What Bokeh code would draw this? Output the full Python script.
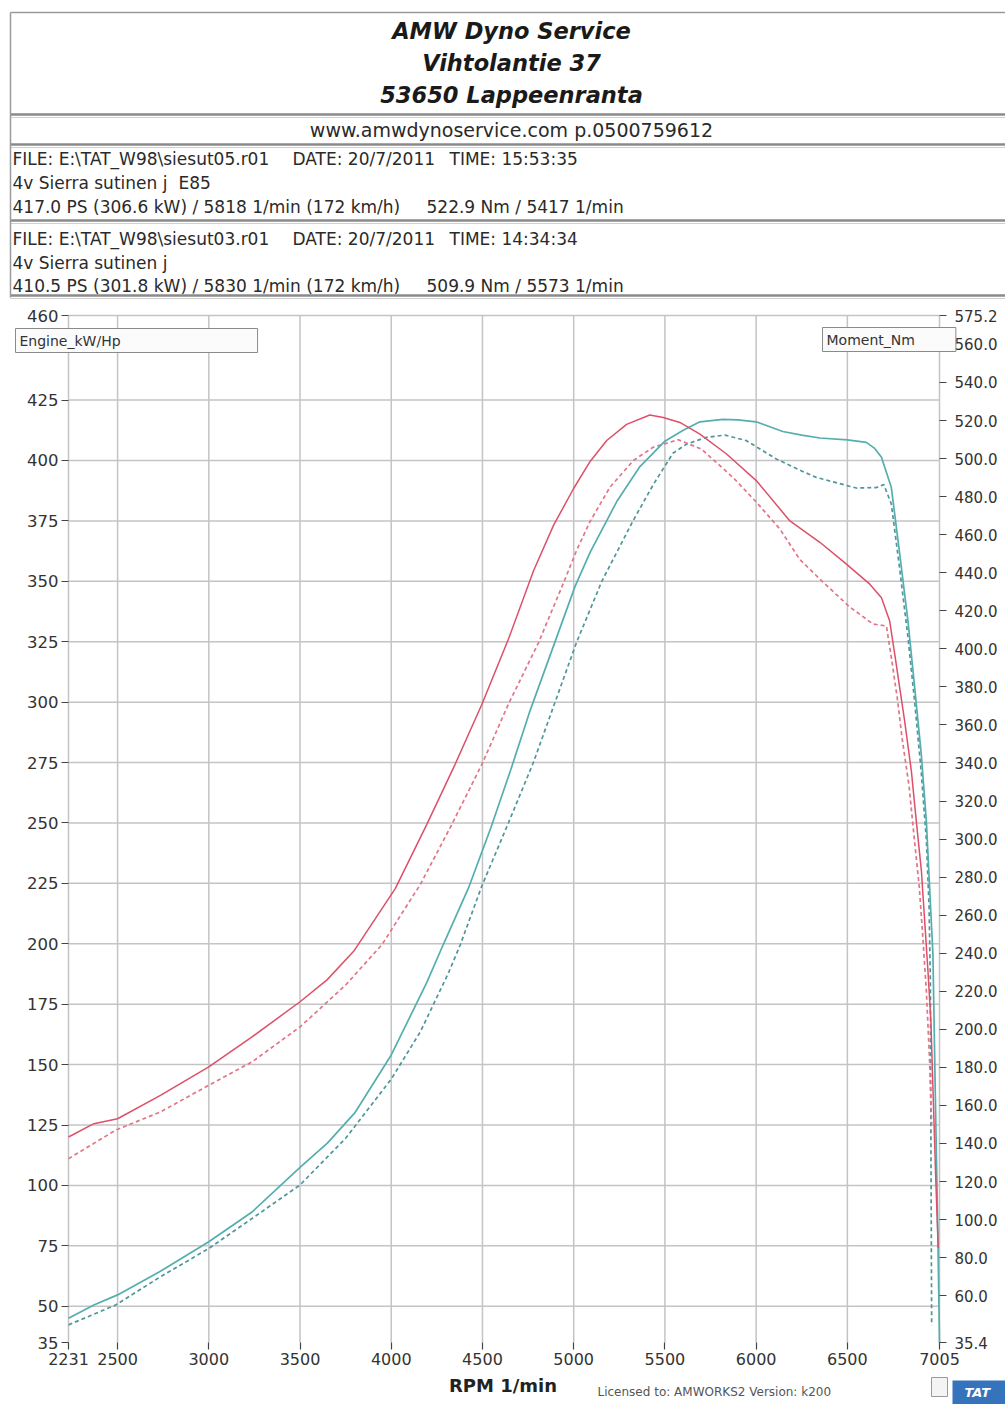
from bokeh.plotting import figure
from bokeh.models import Range1d, LinearAxis, FixedTicker, NumeralTickFormatter, Label
from bokeh.embed import file_html
from bokeh.resources import INLINE
from bokeh.core.properties import value

# ---------------- data ----------------
# Engine power (PS), run siesut05 (E85) - solid teal
rpm_ps_e85 = [2231, 2370, 2500, 2735, 3000, 3237, 3500, 3650, 3800, 4000, 4195, 4287, 4423,
              4546, 4655, 4761, 4893, 5008, 5090, 5236, 5363, 5500, 5600, 5692, 5818, 5900,
              6000, 6146, 6250, 6349, 6500, 6604, 6650, 6687, 6741, 6787, 6832, 6869, 6905,
              6933, 6951, 6969, 6984, 6996, 7005]
ps_e85 = [45, 50.5, 54.7, 64.5, 76.7, 89, 107.5, 117.5, 130, 154, 184, 200, 223,
          248, 272, 296.5, 324, 348, 362, 383, 397.5, 408, 412.5, 416, 417.0, 416.8,
          416, 412, 410.5, 409.3, 408.5, 407.5, 405, 401.3, 388.8, 361.3, 333.6, 306, 278.5,
          250.7, 223, 195.6, 129, 80, 35]

# Engine power (PS), run siesut03 - dashed teal
rpm_ps_03 = [2231, 2489, 2735, 3000, 3237, 3500, 3750, 4000, 4159, 4314, 4378, 4497, 4642,
             4779, 4898, 5017, 5154, 5325, 5436, 5544, 5619, 5728, 5830, 5947, 6111, 6239,
             6330, 6549, 6659, 6700, 6741, 6787, 6832, 6869, 6905, 6933, 6948, 6955, 6958, 6962]
ps_03 = [42.3, 50.5, 62.2, 73.9, 86.3, 100.2, 119.5, 144, 163.5, 188, 199.5, 224, 250,
         275, 300, 325, 350, 375, 390, 403, 406.8, 409.6, 410.5, 408.2, 400.6, 396,
         393, 388.6, 388.8, 390, 382, 355, 327, 300, 271, 243, 215, 184, 120, 42]

# Torque (Nm), run siesut05 (E85) - solid red
rpm_nm_e85 = [2231, 2370, 2500, 2735, 3000, 3237, 3500, 3648, 3794, 4022, 4195, 4350, 4497,
              4642, 4780, 4890, 4998, 5090, 5181, 5290, 5417, 5491, 5582, 5692, 5838, 6002,
              6185, 6349, 6477, 6623, 6687, 6732, 6760, 6787, 6814, 6851, 6878, 6906, 6924,
              6942, 6958, 6972, 6985, 6998]
nm_e85 = [143.4, 150.4, 153, 165.3, 180.3, 196, 214.5, 226, 241, 274, 307.7, 339.3, 370.9,
          405, 441, 465, 484, 498.5, 509.5, 518, 522.9, 521.6, 519, 512.9, 502.4, 488.3,
          467.2, 456, 446, 434, 426.9, 414.6, 397, 379.5, 362, 335.6, 309.3, 283, 256.6,
          230.3, 204, 160, 120, 85]

# Torque (Nm), run siesut03 - dashed red
rpm_nm_03 = [2231, 2489, 2735, 3000, 3237, 3500, 3750, 3949, 4159, 4332, 4497, 4642, 4806,
             4944, 5017, 5090, 5199, 5327, 5436, 5573, 5700, 5874, 6002, 6130, 6239, 6367,
             6513, 6641, 6714, 6745, 6775, 6800, 6838, 6866, 6894, 6914, 6933, 6950, 6962]
nm_03 = [132, 147, 156.6, 170.6, 182.9, 201.3, 223.3, 244.5, 276.1, 307.7, 339.3, 370.9, 403,
         434.6, 452, 467, 485, 499, 506, 509.9, 505, 490, 477, 463, 447, 435,
         422, 413, 412, 393, 373, 353, 328, 301, 275, 248, 220, 185, 150]

x_ticks = [2231, 2500, 3000, 3500, 4000, 4500, 5000, 5500, 6000, 6500, 7005]
ps_ticks = [35, 50, 75, 100, 125, 150, 175, 200, 225, 250, 275, 300, 325, 350, 375, 400, 425, 460]
nm_ticks = [35.4, 60, 80, 100, 120, 140, 160, 180, 200, 220, 240, 260, 280, 300, 320, 340, 360,
            380, 400, 420, 440, 460, 480, 500, 520, 540, 560, 575.2]
x_grid = [2231, 2500, 3000, 3500, 4000, 4500, 5000, 5500, 6000, 6500, 7005]
ps_grid = [50, 75, 100, 125, 150, 175, 200, 225, 250, 275, 300, 325, 350, 375, 400, 425, 460]

title_lines = ["AMW Dyno Service", "Vihtolantie 37", "53650 Lappeenranta"]
web_line = "www.amwdynoservice.com p.0500759612"
run1_file = ["FILE: E:\\TAT_W98\\siesut05.r01", "DATE: 20/7/2011", "TIME: 15:53:35"]
run1_desc = ["4v Sierra sutinen j", "E85"]
run1_res = ["417.0 PS  (306.6 kW) / 5818 1/min (172 km/h)", "522.9 Nm / 5417 1/min"]
run2_file = ["FILE: E:\\TAT_W98\\siesut03.r01", "DATE: 20/7/2011", "TIME: 14:34:34"]
run2_desc = ["4v Sierra sutinen j"]
run2_res = ["410.5 PS  (301.8 kW) / 5830 1/min (172 km/h)", "509.9 Nm / 5573 1/min"]

FONT = "DejaVu Sans"
TEXT = "#2a2a2a"

# ---------------- page geometry (pixels) ----------------
W, H = 1005, 1404
PX_L, PX_R = 68, 939      # pixel columns of rpm 2231 / 7005
PY_T, PY_B = 315, 1342    # pixel rows of the top (460 / 575.2) and bottom (35 / 35.4)
X_MIN, X_MAX = 2231, 7005
P_MIN, P_MAX = 35, 460
N_MIN, N_MAX = 35.4, 575.2

sx = (PX_R - PX_L) / (X_MAX - X_MIN)
sp = (PY_B - PY_T) / (P_MAX - P_MIN)
sn = (PY_B - PY_T) / (N_MAX - N_MIN)

x_range = Range1d(X_MIN - PX_L / sx, X_MIN + (W - PX_L) / sx)
y_range = Range1d(P_MIN - (H - PY_B) / sp, P_MAX + PY_T / sp)
n_range = Range1d(N_MIN - (H - PY_B) / sn, N_MAX + PY_T / sn)


def X(px):
    return X_MIN + (px - PX_L) / sx


def Y(py):
    return P_MAX - (py - PY_T) / sp


p = figure(width=W, height=H, x_range=x_range, y_range=y_range,
           output_backend="svg", toolbar_location=None,
           x_axis_location=None, y_axis_location=None, min_border=0)
p.extra_y_ranges = {"nm": n_range}
p.outline_line_color = None
p.grid.visible = False
p.background_fill_color = "white"

# ---------------- header ----------------
sep_y = [114, 144, 220, 295]
p.segment(x0=[X(10)], y0=[Y(12)], x1=[X(W)], y1=[Y(12)], line_color="#9a9a9a", line_width=1.5)
p.segment(x0=[X(10)] * 4, y0=[Y(v) for v in sep_y], x1=[X(W)] * 4, y1=[Y(v) for v in sep_y],
          line_color="#8a8a8a", line_width=2.5)
p.segment(x0=[X(10)] * 4, y0=[Y(v + 3) for v in sep_y], x1=[X(W)] * 4,
          y1=[Y(v + 3) for v in sep_y], line_color="#d0d0d0", line_width=1)
p.segment(x0=[X(10)], y0=[Y(12)], x1=[X(10)], y1=[Y(297)], line_color="#9a9a9a", line_width=1.5)

p.text(x=[X(511)] * 3, y=[Y(30), Y(62), Y(94)], text=title_lines, text_font=value(FONT),
       text_font_style="bold italic", text_font_size="22.5px", text_align="center",
       text_baseline="middle", text_color="#1a1a1a")
p.text(x=[X(511)], y=[Y(129)], text=[web_line], text_font=value(FONT), text_font_size="19px",
       text_align="center", text_baseline="middle", text_color=TEXT)


def row(xs, py, texts):
    p.text(x=[X(v) for v in xs], y=[Y(py)] * len(xs), text=texts, text_font=value(FONT),
           text_font_size="17px", text_align="left", text_baseline="middle", text_color=TEXT)


row([12, 292, 449], 158, run1_file)
row([12, 178], 182, run1_desc)
row([12, 426], 206, run1_res)
row([12, 292, 449], 238, run2_file)
row([12], 262, run2_desc)
row([12, 426], 285, run2_res)

# ---------------- grid (from the tick lists) ----------------
p.segment(x0=x_grid, y0=[P_MIN] * len(x_grid), x1=x_grid, y1=[P_MAX] * len(x_grid),
          line_color="#c4c4c4", line_width=1.5)
p.segment(x0=[X_MIN] * len(ps_grid), y0=ps_grid, x1=[X_MAX] * len(ps_grid), y1=ps_grid,
          line_color="#c4c4c4", line_width=1.5)

# ---------------- axes ----------------
bottom = LinearAxis(fixed_location=P_MIN, ticker=FixedTicker(ticks=x_ticks))
left = LinearAxis(fixed_location=X_MIN, ticker=FixedTicker(ticks=ps_ticks))
right = LinearAxis(fixed_location=X_MAX, y_range_name="nm", ticker=FixedTicker(ticks=nm_ticks),
                   formatter=NumeralTickFormatter(format="0.0"))
p.add_layout(bottom, "below")
p.add_layout(left, "left")
p.add_layout(right, "right")

for ax in [bottom, left, right]:
    ax.axis_line_color = None
    ax.major_tick_line_color = "#444444"
    ax.major_tick_line_width = 1.2
    ax.major_tick_out = 7
    ax.major_tick_in = 0
    ax.minor_tick_line_color = None
    ax.major_label_text_font = FONT
    ax.major_label_text_font_size = "16px"
    ax.major_label_text_color = "#333333"
    ax.major_label_standoff = 3
left.major_label_text_font_size = "16.5px"
right.major_label_text_font_size = "15px"
right.major_label_standoff = 8

bottom.axis_label = "RPM 1/min"
bottom.axis_label_text_font = FONT
bottom.axis_label_text_font_style = "bold"
bottom.axis_label_text_font_size = "18px"
bottom.axis_label_text_color = "#222222"
bottom.axis_label_standoff = 7

# ---------------- curves ----------------
TEAL = "#55aeae"
TEAL_D = "#4f969a"
RED = "#dc5069"
RED_D = "#e27587"

p.line(rpm_ps_03, ps_03, line_color=TEAL_D, line_width=1.7, line_dash="4 3")
p.line(rpm_nm_03, nm_03, y_range_name="nm", line_color=RED_D, line_width=1.7, line_dash="4 3")
p.line(rpm_ps_e85, ps_e85, line_color=TEAL, line_width=1.7)
p.line(rpm_nm_e85, nm_e85, y_range_name="nm", line_color=RED, line_width=1.5)

# ---------------- boxes & footer ----------------
box_style = dict(text_font=FONT, text_font_size="14px", text_color="#333333",
                 background_fill_color="#fbfbfb", border_line_color="#8a8a8a",
                 border_line_width=1, text_align="left", text_baseline="top")
p.add_layout(Label(x=X(15), y=Y(328), text="Engine_kW/Hp",
                   padding=dict(left=4, right=137, top=4, bottom=4), **box_style))
p.add_layout(Label(x=X(822), y=Y(327), text="Moment_Nm",
                   padding=dict(left=4, right=41, top=4, bottom=4), **box_style))

p.add_layout(Label(x=X(597), y=Y(1391), text="Licensed to: AMWORKS2  Version: k200",
                   text_font=FONT, text_font_size="12px", text_color="#555555",
                   text_align="left", text_baseline="middle"))
p.quad(left=[X(931)], right=[X(947)], top=[Y(1377)], bottom=[Y(1396)],
       fill_color="#f4f4f4", line_color="#9a9a9a", line_width=1)
p.add_layout(Label(x=X(952), y=Y(1380), text="TAT", text_font=FONT,
                   text_font_size="13px", text_font_style="bold italic", text_color="white",
                   background_fill_color="#3573bd", text_align="left", text_baseline="top",
                   padding=dict(left=12, right=16, top=4, bottom=5)))

open("out.html", "w").write(file_html(p, INLINE))
